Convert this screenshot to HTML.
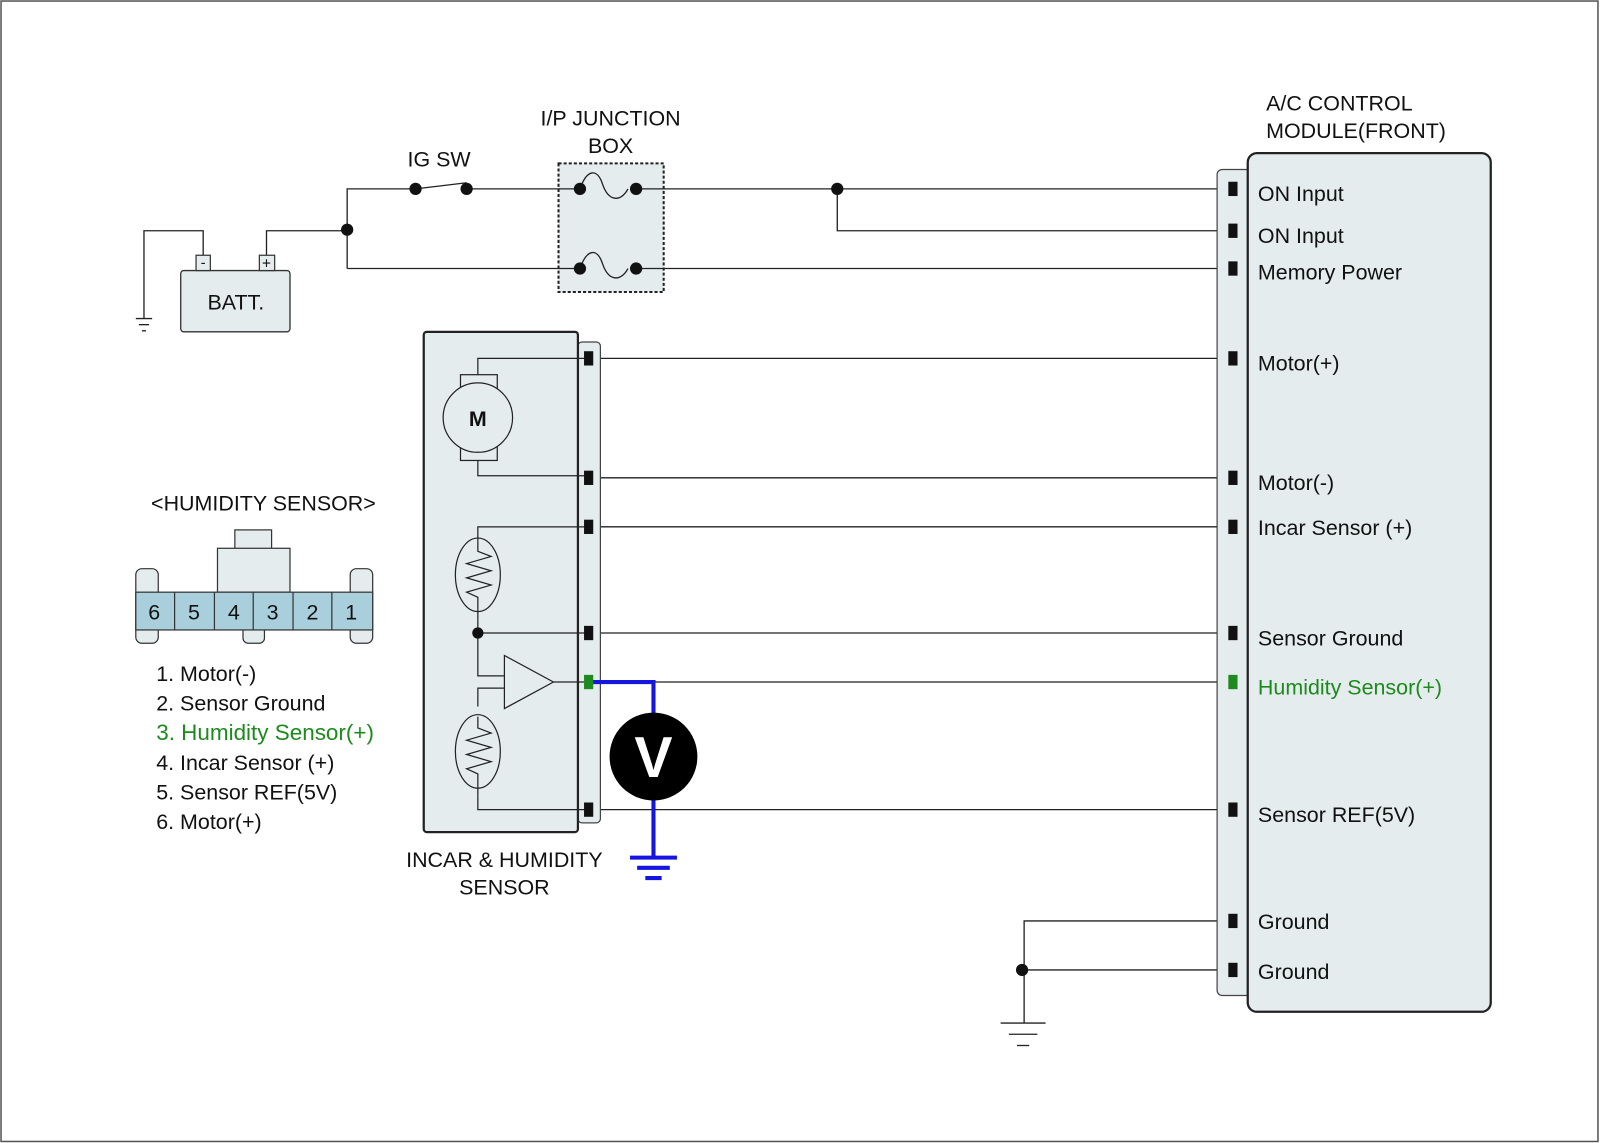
<!DOCTYPE html>
<html><head><meta charset="utf-8"><style>
html,body{margin:0;padding:0;background:#fff}
svg{display:block}
text{font-family:"Liberation Sans",Arial,Helvetica,sans-serif;font-size:21px;fill:#111}
</style></head><body>
<svg width="1600" height="1143" viewBox="0 0 1567 1119.5" preserveAspectRatio="none" xmlns="http://www.w3.org/2000/svg">
<rect x="1" y="1" width="1564" height="1117" fill="#fff" stroke="#555" stroke-width="1.5"/>
<g stroke="#222" stroke-width="1.3" fill="none">
<polyline points="199,250 199,226 141,226 141,312"/>
<polyline points="261,250 261,226 340,226"/>
<polyline points="340,263 340,185 407,185"/>
<line x1="407" y1="185" x2="457" y2="179"/>
<line x1="457" y1="185" x2="568" y2="185"/>
<line x1="340" y1="263" x2="568" y2="263"/>
<line x1="623" y1="185" x2="1205" y2="185"/>
<polyline points="820,185 820,226 1205,226"/>
<line x1="623" y1="263" x2="1205" y2="263"/>
<line x1="133" y1="312" x2="149" y2="312"/><line x1="136" y1="318" x2="146" y2="318"/><line x1="139" y1="324" x2="143" y2="324"/>
<line x1="577" y1="351" x2="1205" y2="351"/>
<line x1="577" y1="468" x2="1205" y2="468"/>
<line x1="577" y1="516" x2="1205" y2="516"/>
<line x1="577" y1="620" x2="1205" y2="620"/>
<line x1="577" y1="668" x2="1205" y2="668"/>
<line x1="577" y1="793" x2="1205" y2="793"/>
<polyline points="1205,902 1003,902 1003,1002"/>
<line x1="1003" y1="950" x2="1205" y2="950"/>
<line x1="980" y1="1002" x2="1024" y2="1002"/><line x1="988" y1="1013" x2="1016" y2="1013"/><line x1="996" y1="1024" x2="1008" y2="1024"/>
</g>
<rect x="177" y="265" width="107" height="60" rx="3" fill="#e5eced" stroke="#333" stroke-width="1.3"/>
<rect x="192" y="250" width="14" height="15" fill="#e5eced" stroke="#333" stroke-width="1.2"/>
<rect x="254" y="250" width="15" height="15" fill="#e5eced" stroke="#333" stroke-width="1.2"/>
<text x="199" y="262" text-anchor="middle" style="font-size:14px">-</text>
<text x="261" y="263" text-anchor="middle" style="font-size:15px">+</text>
<text x="231" y="303" text-anchor="middle">BATT.</text>
<circle cx="340" cy="225" r="6" fill="#111"/>
<circle cx="407" cy="185" r="6" fill="#111"/><circle cx="457" cy="185" r="6" fill="#111"/>
<text x="430" y="163" text-anchor="middle">IG SW</text>
<rect x="547" y="160" width="103" height="126" fill="#e5eced" stroke="#222" stroke-width="2" stroke-dasharray="3,2"/>
<g stroke="#222" stroke-width="1.3" fill="none">
<line x1="547" y1="185" x2="568" y2="185"/><line x1="547" y1="263" x2="568" y2="263"/>
<line x1="623" y1="185" x2="650" y2="185"/><line x1="623" y1="263" x2="650" y2="263"/>
<path d="M568,185 C575,165 585,165 590,180 C596,198 608,198 615,185"/>
<path d="M568,263 C575,243 585,243 590,258 C596,276 608,276 615,263"/>
</g>
<circle cx="568" cy="185" r="6" fill="#111"/><circle cx="623" cy="185" r="6" fill="#111"/>
<circle cx="568" cy="263" r="6" fill="#111"/><circle cx="623" cy="263" r="6" fill="#111"/>
<circle cx="820" cy="185" r="6" fill="#111"/>
<text x="598" y="123" text-anchor="middle">I/P JUNCTION</text>
<text x="598" y="150" text-anchor="middle">BOX</text>
<rect x="1192" y="166" width="35" height="809" rx="5" fill="#e5eced" stroke="#444" stroke-width="1.2"/>
<rect x="1222" y="150" width="238" height="841" rx="9" fill="#e5eced" stroke="#222" stroke-width="2.2"/>
<text x="1240" y="108">A/C CONTROL</text>
<text x="1240" y="135">MODULE(FRONT)</text>
<g fill="#111">
<rect x="1203" y="178" width="9" height="14"/><rect x="1203" y="219" width="9" height="14"/><rect x="1203" y="256" width="9" height="14"/>
<rect x="1203" y="344" width="9" height="14"/><rect x="1203" y="461" width="9" height="14"/><rect x="1203" y="509" width="9" height="14"/>
<rect x="1203" y="613" width="9" height="14"/><rect x="1203" y="661" width="9" height="14" fill="#1d8a1d"/><rect x="1203" y="786" width="9" height="14"/>
<rect x="1203" y="895" width="9" height="14"/><rect x="1203" y="943" width="9" height="14"/>
</g>
<text x="1232" y="197">ON Input</text>
<text x="1232" y="238">ON Input</text>
<text x="1232" y="274">Memory Power</text>
<text x="1232" y="363">Motor(+)</text>
<text x="1232" y="480">Motor(-)</text>
<text x="1232" y="524">Incar Sensor (+)</text>
<text x="1232" y="632">Sensor Ground</text>
<text x="1232" y="680" style="fill:#1d8a1d">Humidity Sensor(+)</text>
<text x="1232" y="805">Sensor REF(5V)</text>
<text x="1232" y="910">Ground</text>
<text x="1232" y="959">Ground</text>
<circle cx="1001" cy="950" r="6" fill="#111"/>
<rect x="566" y="335" width="22" height="471" rx="4" fill="#e5eced" stroke="#444" stroke-width="1.2"/>
<rect x="415" y="325" width="151" height="490" rx="3" fill="#e5eced" stroke="#222" stroke-width="2.2"/>
<g stroke="#222" stroke-width="1.2" fill="none">
<rect x="451" y="367" width="36" height="84"/>
<polyline points="468,367 468,351 577,351"/>
<polyline points="468,451 468,466 577,466"/>
<polyline points="468,530 468,516 577,516"/>
<polyline points="468,607 468,662 494,662"/>
<line x1="468" y1="620" x2="577" y2="620"/>
<line x1="542" y1="668" x2="577" y2="668"/>
<polyline points="494,674 468,674 468,692"/>
<polyline points="468,780 468,793 577,793"/>
<polygon points="494,642 494,694 542,668"/>
<ellipse cx="468" cy="563" rx="22" ry="36"/>
<ellipse cx="468" cy="736" rx="22" ry="36"/>
<polyline points="468,530 468,540 481,545 457,552 481,559 457,566 481,573 457,580 468,585 468,607"/>
<polyline points="468,702 468,713 481,718 457,725 481,732 457,739 481,746 457,753 468,758 468,780"/>
</g>
<circle cx="468" cy="409" r="34" fill="#e5eced" stroke="#222" stroke-width="1.2"/>
<text x="468" y="417" text-anchor="middle" style="font-weight:bold">M</text>
<circle cx="468" cy="620" r="5.5" fill="#111"/>
<g fill="#111">
<rect x="572" y="344" width="9" height="14"/><rect x="572" y="461" width="9" height="14"/><rect x="572" y="509" width="9" height="14"/>
<rect x="572" y="613" width="9" height="14"/><rect x="572" y="786" width="9" height="14"/>
</g>
<polyline points="577,668 640,668 640,700" fill="none" stroke="#1515e0" stroke-width="4"/>
<line x1="640" y1="782" x2="640" y2="840" stroke="#1515e0" stroke-width="4"/>
<g stroke="#1515e0" stroke-width="4"><line x1="617" y1="840" x2="663" y2="840"/><line x1="624" y1="850" x2="656" y2="850"/><line x1="632" y1="860" x2="648" y2="860"/></g>
<rect x="572" y="661" width="9" height="14" fill="#1d8a1d"/>
<circle cx="640" cy="741" r="43" fill="#000"/>
<text x="640" y="761" text-anchor="middle" style="font-size:56px;font-weight:bold;fill:#fff">V</text>
<text x="494" y="849" text-anchor="middle">INCAR &amp; HUMIDITY</text>
<text x="494" y="876" text-anchor="middle">SENSOR</text>
<text x="258" y="500" text-anchor="middle">&lt;HUMIDITY SENSOR&gt;</text>
<g stroke="#333" stroke-width="1.2">
<rect x="230" y="519" width="36" height="19" fill="#e5eced"/>
<rect x="213" y="537" width="71" height="43" fill="#e5eced"/>
<rect x="133" y="557" width="22" height="73" rx="6" fill="#e5eced"/>
<rect x="343" y="557" width="22" height="73" rx="6" fill="#e5eced"/>
<rect x="238" y="610" width="21" height="20" rx="5" fill="#e5eced"/>
<rect x="133" y="580" width="232" height="37" fill="#a9cfdc"/>
<line x1="171" y1="580" x2="171" y2="617"/><line x1="210" y1="580" x2="210" y2="617"/><line x1="248" y1="580" x2="248" y2="617"/>
<line x1="287" y1="580" x2="287" y2="617"/><line x1="325" y1="580" x2="325" y2="617"/>
</g>
<g text-anchor="middle">
<text x="151" y="607">6</text><text x="190" y="607">5</text><text x="229" y="607">4</text>
<text x="267" y="607">3</text><text x="306" y="607">2</text><text x="344" y="607">1</text>
</g>
<text x="153" y="667">1. Motor(-)</text>
<text x="153" y="696">2. Sensor Ground</text>
<text x="153" y="725" style="fill:#1d8a1d;font-size:22px">3. Humidity Sensor(+)</text>
<text x="153" y="754">4. Incar Sensor (+)</text>
<text x="153" y="783">5. Sensor REF(5V)</text>
<text x="153" y="812">6. Motor(+)</text>
</svg>
</body></html>
